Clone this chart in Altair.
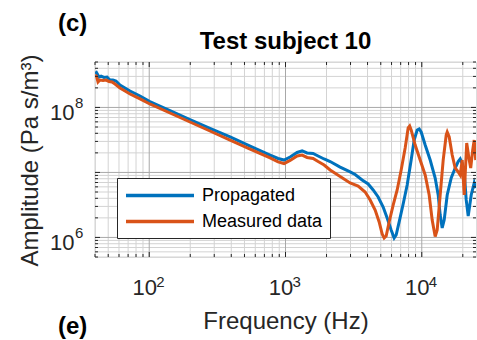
import altair as alt
import pandas as pd

# ---------------- data ----------------
series_names = ["Propagated", "Measured data"]
series_colors = ["#0072BD", "#D95319"]

prop_freq = [40, 41, 42.8, 44.3, 46.6, 49, 51.5, 54.2, 57, 61,
             66.4, 72.3, 85.6, 101, 142, 199, 279, 392, 550, 771,
             882, 976, 1081, 1217, 1324, 1441, 1594, 1735, 1920, 2126,
             2517, 2981, 3243, 3651, 4041, 4398, 4785, 5207, 5571, 5961,
             6272, 6486, 6825, 7302, 7813, 8359, 8796, 9252, 9570, 9899,
             10593, 11528, 12543, 13196, 13650, 14120, 14603, 15369, 16444, 17590,
             18503, 19143, 19802, 20483, 21189, 21915, 23057, 24257, 24880]
prop_amp = [3.33e8, 3.45e8, 2.94e8, 3.04e8, 2.89e8, 2.94e8, 2.64e8, 2.64e8, 2.55e8, 2.21e8,
            1.99e8, 1.79e8, 1.50e8, 1.23e8, 8.97e7, 6.52e7, 4.78e7, 3.51e7, 2.55e7, 1.85e7,
            1.64e7, 1.55e7, 1.73e7, 2.03e7, 2.14e7, 1.99e7, 1.96e7, 1.79e7, 1.61e7, 1.47e7,
            1.21e7, 1.02e7, 9.29e6, 7.65e6, 6.64e6, 5.37e6, 4.19e6, 2.94e6, 1.99e6, 1.30e6,
            9.8e5, 1.09e6, 1.73e6, 3.27e6, 6.41e6, 1.55e7, 3.15e7, 4.50e7, 4.66e7, 4.19e7,
            2.64e7, 1.55e7, 8.21e6, 4.50e6, 2.21e6, 1.40e6, 1.85e6, 4.50e6, 8.21e6, 1.17e7,
            1.47e7, 1.61e7, 1.37e7, 1.02e7, 3.77e6, 2.14e6, 4.50e6, 6.88e6, 5.76e6]

meas_freq = [40, 41, 42.1, 43.5, 45.8, 48.2, 50.7, 53.3, 56.1, 61,
             66.4, 72.3, 85.6, 101, 142, 199, 279, 392, 550, 771,
             882, 976, 1081, 1217, 1324, 1441, 1594, 1735, 1920, 2126,
             2517, 2981, 3412, 3841, 4180, 4549, 4867, 5120, 5296, 5479,
             5762, 6166, 6598, 7061, 7552, 7947, 8152, 8359, 8945, 9733,
             10593, 11334, 11925, 12543, 12974, 13650, 14360, 15111, 15369, 15898,
             16725, 17590, 18503, 19143, 19802, 20483, 21368, 22290, 22862, 23650,
             24257, 24880]
meas_amp = [3.10e8, 3.04e8, 2.46e8, 2.64e8, 2.60e8, 2.64e8, 2.51e8, 2.46e8, 2.29e8, 1.99e8,
            1.79e8, 1.61e8, 1.35e8, 1.13e8, 8.21e7, 5.97e7, 4.34e7, 3.15e7, 2.29e7, 1.67e7,
            1.45e7, 1.37e7, 1.53e7, 1.79e7, 1.85e7, 1.70e7, 1.64e7, 1.47e7, 1.30e7, 1.09e7,
            8.66e6, 6.88e6, 6.18e6, 5.0e6, 3.77e6, 2.64e6, 1.73e6, 1.13e6, 9.8e5, 1.05e6,
            1.73e6, 3.15e6, 5.37e6, 1.09e7, 2.38e7, 4.83e7, 5.18e7, 4.50e7, 2.64e7, 1.55e7,
            9.13e6, 4.50e6, 1.85e6, 1.03e6, 1.30e6, 4.50e6, 1.55e7, 3.77e7, 4.19e7, 3.51e7,
            1.85e7, 1.17e7, 1.02e7, 9.13e6, 1.55e7, 4.50e6, 2.84e7, 1.55e7, 1.17e7, 2.21e7,
            3.15e7, 1.55e7]

x_domain = [40, 25000]
y_domain = [5e5, 5e8]
tick_base = "10"
x_major = [100, 1000, 10000]
x_exps = ["2", "3", "4"]
y_major = [1e6, 1e7, 1e8]
y_labeled = [1e6, 1e8]
y_exps = ["6", "8"]
x_minor = [m * 10 ** e for e in (1, 2, 3, 4) for m in range(2, 10)
           if x_domain[0] <= m * 10 ** e <= x_domain[1]]
y_minor = [m * 10 ** e for e in (5, 6, 7, 8) for m in range(2, 10)
           if y_domain[0] <= m * 10 ** e <= y_domain[1]]

title_text = "Test subject 10"
x_title = "Frequency (Hz)"
y_title = "Amplitude (Pa s/m³)"
panel_tags = ["(c)", "(e)"]

# ---------------- layout / style ----------------
W, H = 381, 195
FONT = "Liberation Sans"
INK = "#262626"
GRID_MAJOR = "#a8a8a8"
GRID_MINOR = "#d3d3d3"

xs = alt.Scale(type="log", domain=x_domain, nice=False)
ys = alt.Scale(type="log", domain=y_domain, nice=False)

df = pd.concat([
    pd.DataFrame({"f": prop_freq, "A": prop_amp, "series": series_names[0]}),
    pd.DataFrame({"f": meas_freq, "A": meas_amp, "series": series_names[1]}),
])

color_scale = alt.Scale(domain=series_names, range=series_colors)

x_axis = alt.Axis(values=x_major, labelExpr=f"'{tick_base}'", grid=False,
                  ticks=False, tickSize=0, domain=False, labelFont=FONT, labelFontSize=22,
                  labelColor=INK, labelBaseline="alphabetic", labelPadding=37, labelOffset=-5,
                  title=x_title, titleFont=FONT, titleFontSize=24, titleFontWeight="normal",
                  titleColor=INK, titleBaseline="alphabetic", titleY=71)
y_axis = alt.Axis(values=y_labeled, labelExpr=f"'{tick_base}'", grid=False,
                  ticks=False, tickSize=0, domain=False, labelFont=FONT, labelFontSize=22,
                  labelColor=INK, labelBaseline="alphabetic", labelOffset=12, labelPadding=21,
                  labelAlign="right",
                  title=y_title, titleFont=FONT, titleFontSize=24, titleFontWeight="normal",
                  titleColor=INK, titleBaseline="alphabetic", titleAngle=-90,
                  titleX=-58, titleY=98, titleAlign="center")

legend = alt.Legend(title=None, orient="none", legendX=22, legendY=116,
                    symbolType="M-1,0H7", symbolSize=289, symbolStrokeWidth=3.5,
                    labelFont=FONT, labelFontSize=18, labelColor="black", labelOffset=57,
                    fillColor="white", strokeColor=INK, padding=7, rowPadding=6)


def X(field="v"):
    return alt.X(f"{field}:Q", scale=xs, axis=x_axis)


def Y(field="v"):
    return alt.Y(f"{field}:Q", scale=ys, axis=y_axis)


def vrules(vals, color):
    return alt.Chart(pd.DataFrame({"v": vals})).mark_rule(color=color, strokeWidth=1).encode(x=X())


def hrules(vals, color):
    return alt.Chart(pd.DataFrame({"v": vals})).mark_rule(color=color, strokeWidth=1).encode(y=Y())


def xticks(vals, length):
    d = pd.DataFrame({"v": vals})
    bottom = alt.Chart(d).mark_rule(color=INK, strokeWidth=1).encode(
        x=X(), y=alt.value(H), y2=alt.value(H - length))
    top = alt.Chart(d).mark_rule(color=INK, strokeWidth=1).encode(
        x=X(), y=alt.value(0), y2=alt.value(length))
    return [bottom, top]


def yticks(vals, length):
    d = pd.DataFrame({"v": vals})
    left = alt.Chart(d).mark_rule(color=INK, strokeWidth=1).encode(
        y=Y(), x=alt.value(0), x2=alt.value(length))
    right = alt.Chart(d).mark_rule(color=INK, strokeWidth=1).encode(
        y=Y(), x=alt.value(W), x2=alt.value(W - length))
    return [left, right]


line_prop = alt.Chart(df).transform_filter(alt.datum.series == series_names[0]).mark_line(
    strokeWidth=3, clip=True).encode(
    x=X("f"), y=Y("A"),
    color=alt.Color("series:N", scale=color_scale, legend=legend),
    order=alt.Order("f:Q"))

line_meas = alt.Chart(df).transform_filter(alt.datum.series == series_names[1]).mark_line(
    strokeWidth=3, clip=True).encode(
    x=X("f"), y=Y("A"),
    color=alt.Color("series:N", scale=color_scale, legend=legend),
    order=alt.Order("f:Q"))

# exponents of the tick labels (10^n), placed at the tick values
x_sup = alt.Chart(pd.DataFrame({"v": x_major, "s": x_exps})).mark_text(
    font=FONT, fontSize=15, color=INK, align="left", baseline="alphabetic", dx=7).encode(
    x=X(), y=alt.value(H + 30), text="s:N")
y_sup = alt.Chart(pd.DataFrame({"v": y_labeled, "s": y_exps})).mark_text(
    font=FONT, fontSize=15, color=INK, align="left", baseline="alphabetic", dy=1).encode(
    y=Y(), x=alt.value(-20), text="s:N")


def label(text, x, y, size, bold=True, align="left"):
    return alt.Chart(pd.DataFrame({"t": [text]})).mark_text(
        font=FONT, fontSize=size, fontWeight="bold" if bold else "normal", color="black",
        align=align, baseline="alphabetic").encode(text="t:N", x=alt.value(x), y=alt.value(y))


layers = [vrules(x_minor, GRID_MINOR), hrules(y_minor, GRID_MINOR),
          vrules(x_major, GRID_MAJOR), hrules(y_major, GRID_MAJOR),
          line_prop, line_meas]
layers += xticks(x_minor, 3) + xticks(x_major, 5) + yticks(y_minor, 3) + yticks(y_major, 5)
layers += [x_sup, y_sup,
           label(title_text, W / 2, -13, 24, align="center"),
           label(panel_tags[0], -37, -31, 24),
           label(panel_tags[1], -37, 272, 24)]

chart = alt.layer(*layers).properties(
    width=W, height=H,
    autosize=alt.AutoSizeParams(type="none"),
    padding={"left": 95, "top": 62, "right": 1, "bottom": 83},
).configure_view(stroke=INK, strokeWidth=2).configure(background="white")

chart.save("out.html", embed_options={"renderer": "svg", "actions": False})
